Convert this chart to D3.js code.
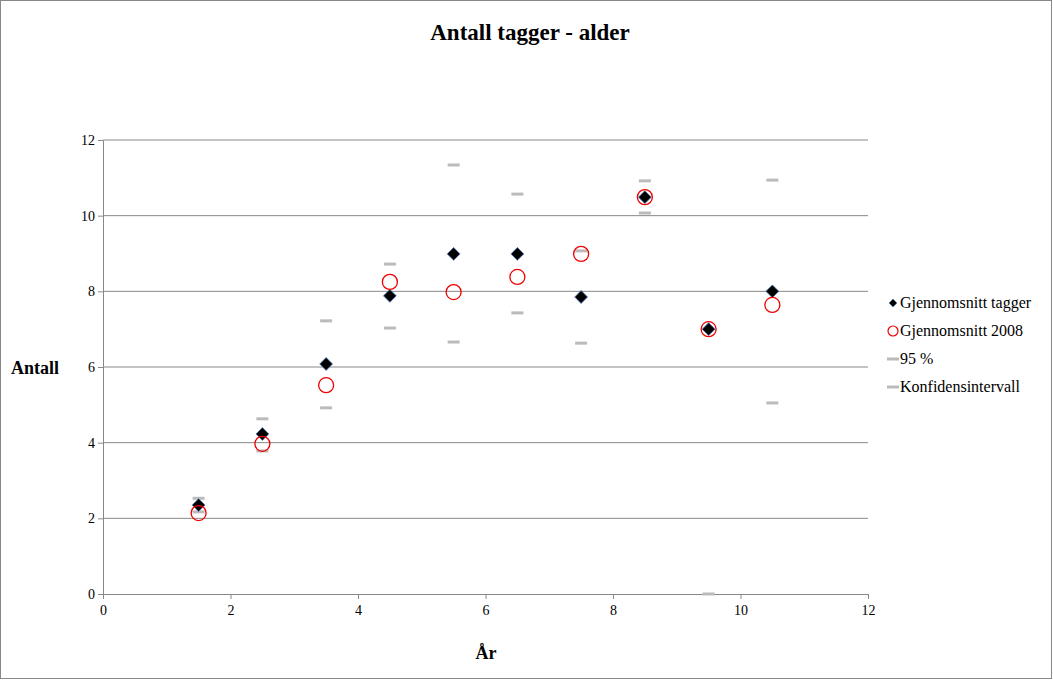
<!DOCTYPE html>
<html><head><meta charset="utf-8">
<script src="https://cdn.jsdelivr.net/npm/d3@7"></script>
<style>body{margin:0;background:#fff}text{font-family:"Liberation Serif","Times New Roman",serif}</style>
</head><body>
<script>
const ages = [1.5,2.5,3.5,4.5,5.5,6.5,7.5,8.5,9.5,10.5];
const tagger = [2.35,4.23,6.08,7.88,8.99,8.99,7.85,10.49,7.0,8.0];
const avg2008 = [2.14,3.97,5.52,8.25,7.98,8.38,8.99,10.49,7.0,7.64];
const upper95 = [2.53,4.63,7.22,8.72,11.34,10.57,9.07,10.92,null,10.94];
const lowerCI = [2.17,3.78,4.92,7.03,6.66,7.43,6.63,10.07,0,5.05];
const xTicks = [0,2,4,6,8,10,12];
const yTicks = [0,2,4,6,8,10,12];

const W=1053,H=680;
const svg=d3.select("body").append("svg").attr("width",W).attr("height",H);
svg.append("rect").attr("x",0.5).attr("y",0.5).attr("width",W-2).attr("height",H-2).attr("fill","#fff").attr("stroke","#888");

const x=d3.scaleLinear().domain([0,12]).range([103,868]);
const y=d3.scaleLinear().domain([0,12]).range([594,140]);

svg.append("g").selectAll("line").data(yTicks.filter(d=>d>0)).enter().append("line")
  .attr("x1",x(0)).attr("x2",x(12)).attr("y1",d=>y(d)).attr("y2",d=>y(d)).attr("stroke","#888");

const xa=svg.append("g").attr("transform","translate(0,594)").call(d3.axisBottom(x).tickValues(xTicks).tickSize(5).tickSizeOuter(0));
const ya=svg.append("g").attr("transform","translate(103,0)").call(d3.axisLeft(y).tickValues(yTicks).tickSize(5).tickSizeOuter(0));
[xa,ya].forEach(a=>{a.selectAll("path,line").attr("stroke","#888");a.selectAll("text").attr("font-size",14).attr("font-family","Liberation Serif").attr("fill","#000");});
xa.selectAll("text").attr("dy","0.9em");

const dash=(sel,data)=>sel.selectAll(null).data(ages.map((a,i)=>[a,data[i]]).filter(d=>d[1]!=null)).enter().append("line")
  .attr("x1",d=>x(d[0])-6).attr("x2",d=>x(d[0])+6).attr("y1",d=>y(d[1])).attr("y2",d=>y(d[1]))
  .attr("stroke","#bbb").attr("stroke-width",3);
dash(svg.append("g"),upper95);
dash(svg.append("g"),lowerCI);

svg.append("g").selectAll("path").data(ages.map((a,i)=>[a,tagger[i]])).enter().append("path")
  .attr("d",d3.symbol(d3.symbolDiamond2,105))
  .attr("transform",d=>`translate(${x(d[0])},${y(d[1])})`)
  .attr("fill","#000").attr("stroke","#4a7ab5").attr("stroke-width",0.8);

svg.append("g").selectAll("circle").data(ages.map((a,i)=>[a,avg2008[i]])).enter().append("circle")
  .attr("cx",d=>x(d[0])).attr("cy",d=>y(d[1])).attr("r",7.5).attr("fill","none").attr("stroke","#e00").attr("stroke-width",1.3);

svg.append("text").attr("x",530).attr("y",40).attr("text-anchor","middle").attr("font-size",23).attr("font-weight","bold").text("Antall tagger - alder");
svg.append("text").attr("x",486).attr("y",659).attr("text-anchor","middle").attr("font-size",18).attr("font-weight","bold").text("År");
svg.append("text").attr("x",11).attr("y",374).attr("font-size",18).attr("font-weight","bold").text("Antall");

const leg=[["Gjennomsnitt tagger","d"],["Gjennomsnitt 2008","c"],["95 %","l"],["Konfidensintervall","l"]];
const lg=svg.append("g").selectAll("g").data(leg).enter().append("g").attr("transform",(d,i)=>`translate(893,${303+i*28})`);
lg.each(function(d){
  const g=d3.select(this);
  if(d[1]=="d") g.append("path").attr("d",d3.symbol(d3.symbolDiamond2,40)).attr("fill","#000").attr("stroke","#4a7ab5").attr("stroke-width",0.6);
  else if(d[1]=="c") g.append("circle").attr("r",5).attr("fill","none").attr("stroke","#e00").attr("stroke-width",1.2);
  else g.append("line").attr("x1",-6).attr("x2",6).attr("stroke","#bbb").attr("stroke-width",3);
});
lg.append("text").attr("x",7).attr("y",5).attr("font-size",16).text(d=>d[0]);
</script>
</body></html>
